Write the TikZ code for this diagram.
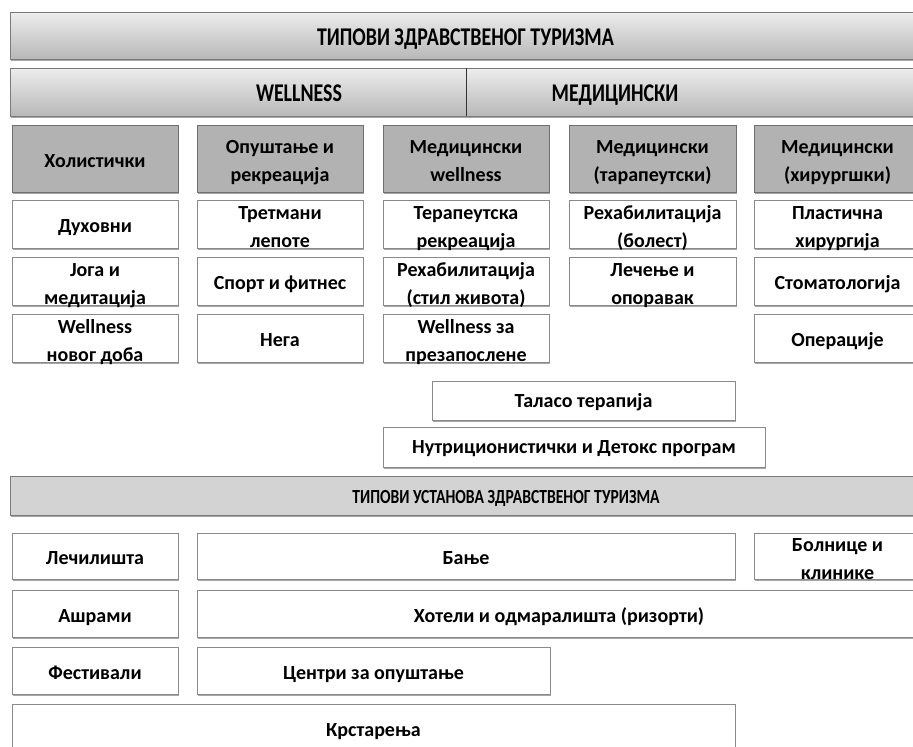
\documentclass[tikz,border=0pt]{standalone}
\usepackage{fontspec}
\usepackage{graphicx}
\setmainfont{Carlito}
\usetikzlibrary{shadows}
\definecolor{bordergray}{HTML}{8A8A8A}
\definecolor{hdrfill}{HTML}{B2B2B2}
\definecolor{hdrborder}{HTML}{707070}
\definecolor{barborder}{HTML}{7A7A7A}
\definecolor{bartop}{HTML}{EDEDED}
\definecolor{barbottom}{HTML}{B8B8B8}
\definecolor{flatbar}{HTML}{D3D3D3}
\newcommand{\cnd}[2][0.78]{\scalebox{#1}[1]{#2}}
\tikzset{
  base/.style={rectangle, inner sep=0pt, outer sep=0pt, anchor=north west, line width=0.9pt,
    drop shadow={shadow xshift=1pt, shadow yshift=-1.6pt, opacity=0.35, fill=black}},
  wbox/.style={base, draw=bordergray, fill=white},
  hbox/.style={base, draw=hdrborder, fill=hdrfill},
  gbar/.style={base, draw=barborder, top color=bartop, bottom color=barbottom},
  fbar/.style={base, draw=barborder, fill=flatbar},
  txt/.style={inner sep=0pt, anchor=base, font=\bfseries\fontsize{20}{28}\selectfont},
  lbl/.style={inner sep=0pt, anchor=base, font=\bfseries\fontsize{25.5}{28}\selectfont},
}
% one-line box: style, name, x1, y1, x2, y2, baseline offset, text
\newcommand{\bxa}[8]{%
  \pgfmathsetmacro{\bw}{#5-#3}\pgfmathsetmacro{\bh}{#6-#4}%
  \pgfmathsetmacro{\cx}{(#3+#5)/2}\pgfmathsetmacro{\cy}{(#4+#6)/2+#7}%
  \node[#1, minimum width=\bw pt, minimum height=\bh pt] (#2) at (#3,#4) {};
  \node[txt] (#2-t) at (\cx,\cy) {#8};}
% two-line box: style, name, x1, y1, x2, y2, line1, line2
\newcommand{\bxb}[8]{%
  \pgfmathsetmacro{\bw}{#5-#3}\pgfmathsetmacro{\bh}{#6-#4}%
  \pgfmathsetmacro{\cx}{(#3+#5)/2}\pgfmathsetmacro{\cy}{(#4+#6)/2}%
  \node[#1, minimum width=\bw pt, minimum height=\bh pt] (#2) at (#3,#4) {};
  \node[txt] (#2-t1) at (\cx,\cy-5) {#7};
  \node[txt] (#2-t2) at (\cx,\cy+23) {#8};}
\begin{document}
\begin{tikzpicture}[x=1pt,y=-1pt]
\useasboundingbox (0,0) rectangle (913,747);
\fill[white] (0,0) rectangle (913,747);
% top bars
\node[gbar, minimum width=911pt, minimum height=47pt] (title) at (10,12) {};
\node[lbl] (titletxt) at (465.5,45) {\cnd{ТИПОВИ ЗДРАВСТВЕНОГ ТУРИЗМА}};
\node[gbar, minimum width=456pt, minimum height=48pt] (well) at (10,68) {};
\node[gbar, minimum width=455pt, minimum height=48pt] (med) at (466,68) {};
\draw[line width=1pt, black!80] (well.north east) -- (well.south east);
\node[lbl] (welltxt) at (299,101) {\cnd{WELLNESS}};
\node[lbl] (medtxt) at (615,101) {\cnd{МЕДИЦИНСКИ}};
% headers
\bxa{hbox}{h1}{12}{125}{178}{192}{8.5}{Холистички}
\bxb{hbox}{h2}{197}{125}{363}{192}{Опуштање и}{рекреација}
\bxb{hbox}{h3}{383}{125}{549}{192}{Медицински}{wellness}
\bxb{hbox}{h4}{569}{125}{736}{192}{Медицински}{(тарапеутски)}
\bxb{hbox}{h5}{754}{125}{921}{192}{Медицински}{(хирургшки)}
% column 1
\bxa{wbox}{a1}{12}{200}{178}{248}{8.5}{Духовни}
\bxb{wbox}{a2}{12}{257}{178}{305}{Јога и}{медитација}
\bxb{wbox}{a3}{12}{314}{178}{362}{Wellness}{новог доба}
% column 2
\bxb{wbox}{b1}{197}{200}{363}{248}{Третмани}{лепоте}
\bxa{wbox}{b2}{197}{257}{363}{305}{8.5}{Спорт и фитнес}
\bxa{wbox}{b3}{197}{314}{363}{362}{8.5}{Нега}
% column 3
\bxb{wbox}{c1}{383}{200}{549}{248}{Терапеутска}{рекреација}
\bxb{wbox}{c2}{383}{257}{549}{305}{Рехабилитација}{(стил живота)}
\bxb{wbox}{c3}{383}{314}{549}{362}{Wellness за}{презапослене}
% column 4
\bxb{wbox}{d1}{569}{200}{736}{248}{Рехабилитација}{(болест)}
\bxb{wbox}{d2}{569}{257}{736}{305}{Лечење и}{опоравак}
% column 5
\bxb{wbox}{e1}{754}{200}{921}{248}{Пластична}{хирургија}
\bxa{wbox}{e2}{754}{257}{921}{305}{8.5}{Стоматологија}
\bxa{wbox}{e3}{754}{314}{921}{362}{8.5}{Операције}
% middle
\bxa{wbox}{talaso}{432}{381}{735}{420}{7}{Таласо терапија}
\bxa{wbox}{nutri}{383}{427}{765}{467}{6.5}{Нутриционистички и Детокс програм}
\node[fbar, minimum width=911pt, minimum height=39pt] (ustan) at (10,476) {};
\node[lbl, font=\bfseries\fontsize{20}{24}\selectfont] (ustantxt) at (506,503) {\cnd{ТИПОВИ УСТАНОВА ЗДРАВСТВЕНОГ ТУРИЗМА}};
% bottom
\bxa{wbox}{f1}{12}{533}{178}{579}{8.5}{Лечилишта}
\bxa{wbox}{f2}{197}{533}{735}{579}{8.5}{Бање}
\bxb{wbox}{f3}{754}{533}{921}{579}{Болнице и}{клинике}
\bxa{wbox}{g1}{12}{590}{178}{637}{8.5}{Ашрами}
\bxa{wbox}{g2}{197}{590}{921}{637}{8.5}{Хотели и одмаралишта (ризорти)}
\bxa{wbox}{k1}{12}{647}{178}{694}{8.5}{Фестивали}
\bxa{wbox}{k2}{197}{647}{550}{694}{8.5}{Центри за опуштање}
\bxa{wbox}{m1}{12}{704}{735}{752}{8.5}{Крстарења}
\end{tikzpicture}
\end{document}
